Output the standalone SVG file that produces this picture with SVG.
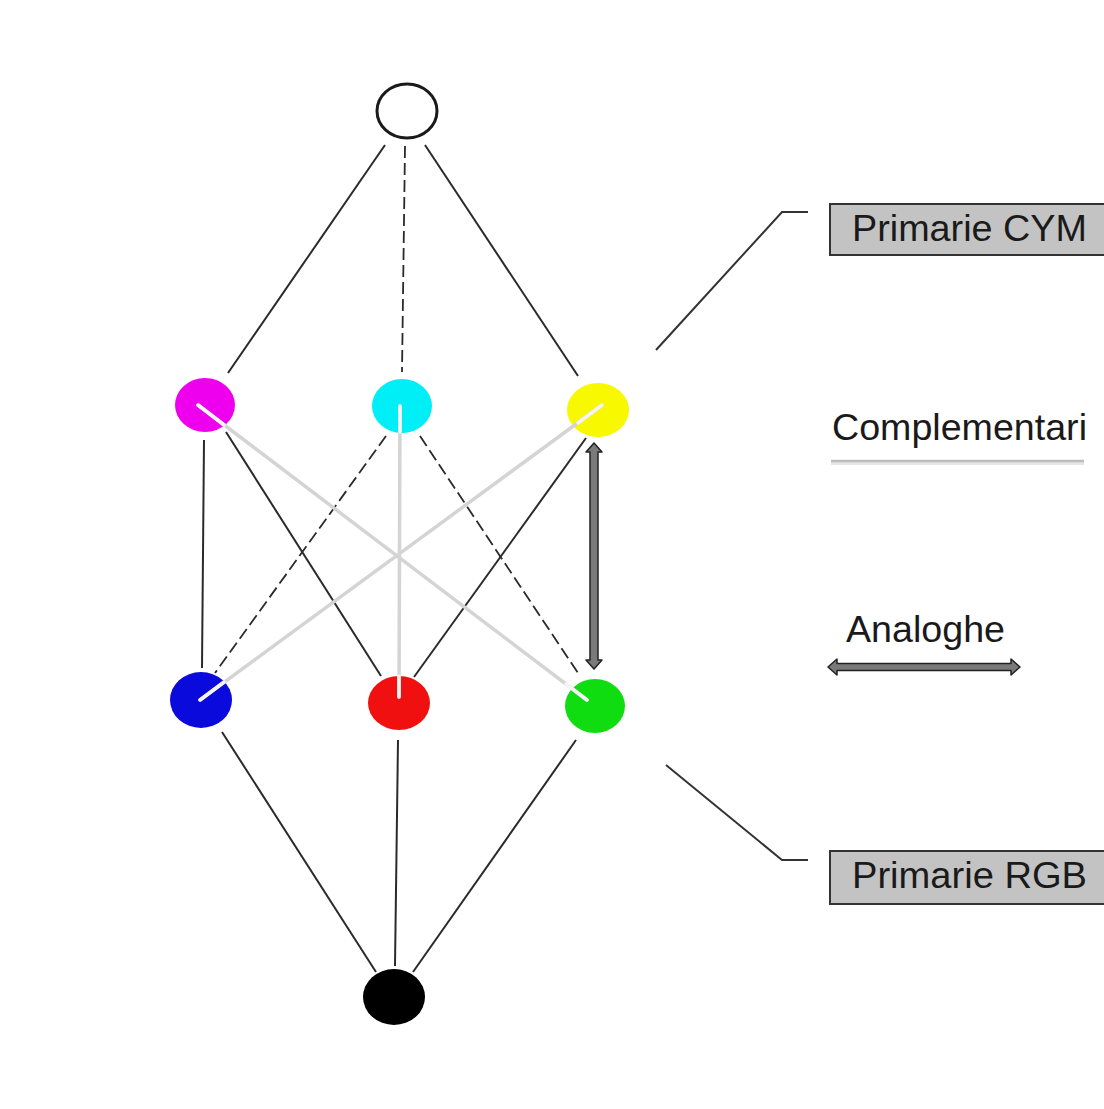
<svg xmlns="http://www.w3.org/2000/svg" width="1104" height="1109" viewBox="0 0 1104 1109">
  <defs>
    <style>
      .edge { stroke: #2a2a2a; stroke-width: 2; fill: none; }
      .dash { stroke: #2a2a2a; stroke-width: 1.8; fill: none; stroke-dasharray: 12 5; }
      .comp { stroke: #d4d4d4; stroke-width: 3.5; fill: none; stroke-linecap: round; }
      .comp-in { stroke: #f4f4f4; stroke-width: 3.5; fill: none; stroke-linecap: round; }
      .callout { stroke: #333; stroke-width: 2; fill: none; }
      .label { font-family: "Liberation Sans", Arial, sans-serif; font-size: 36px; fill: #1a1a1a; }
      .tag { fill: #c3c3c3; stroke: #333; stroke-width: 2; }
      .dbl { fill: #7a7a7a; stroke: #222; stroke-width: 1.5; stroke-linejoin: round; }
    </style>
  </defs>

  <rect width="1104" height="1109" fill="#ffffff"/>

  <!-- connectors -->
  <g id="connectors">
    <!-- white to first row -->
    <line class="edge" x1="385" y1="145" x2="228" y2="373"/>
    <line class="dash" x1="405" y1="146" x2="402" y2="372"/>
    <line class="edge" x1="425" y1="145" x2="578" y2="376"/>
    <!-- first row to second row -->
    <line class="edge" x1="204" y1="440" x2="202" y2="668"/>
    <line class="edge" x1="226" y1="432" x2="381" y2="676"/>
    <line class="dash" x1="386" y1="436" x2="215" y2="673"/>
    <line class="dash" x1="420" y1="436" x2="580" y2="676"/>
    <line class="edge" x1="586" y1="438" x2="414" y2="677"/>
    <!-- second row to black -->
    <line class="edge" x1="222" y1="732" x2="376" y2="972"/>
    <line class="edge" x1="398" y1="740" x2="395" y2="966"/>
    <line class="edge" x1="576" y1="740" x2="413" y2="972"/>
  </g>

  <!-- nodes -->
  <g id="node-white">
    <ellipse cx="407" cy="111" rx="30" ry="27" fill="#ffffff" stroke="#1a1a1a" stroke-width="3"/>
  </g>
  <g id="node-magenta">
    <ellipse cx="205" cy="405" rx="30" ry="27" fill="#ee00ee"/>
  </g>
  <g id="node-cyan">
    <ellipse cx="402" cy="406" rx="30" ry="27" fill="#00eef5"/>
  </g>
  <g id="node-yellow">
    <ellipse cx="598" cy="410" rx="31" ry="27" fill="#f8f800"/>
  </g>
  <g id="node-blue">
    <ellipse cx="201" cy="700" rx="31" ry="28" fill="#0a0adc"/>
  </g>
  <g id="node-red">
    <ellipse cx="399" cy="703" rx="31" ry="27" fill="#f01010"/>
  </g>
  <g id="node-green">
    <ellipse cx="595" cy="706" rx="30" ry="27" fill="#10dd10"/>
  </g>
  <g id="node-black">
    <ellipse cx="394" cy="997" rx="31" ry="28" fill="#000000"/>
  </g>

  <!-- complementary pairs, drawn over the nodes -->
  <g id="complementary">
    <line class="comp" x1="198" y1="405" x2="587" y2="700"/>
    <line class="comp" x1="602" y1="405" x2="200" y2="700"/>
    <line class="comp" x1="400" y1="406" x2="399" y2="697"/>
    <!-- lighter segments inside the discs -->
    <line class="comp-in" x1="198" y1="405" x2="224" y2="425"/>
    <line class="comp-in" x1="602" y1="405" x2="578" y2="423"/>
    <line class="comp-in" x1="400" y1="406" x2="400" y2="432"/>
    <line class="comp-in" x1="200" y1="700" x2="224" y2="682"/>
    <line class="comp-in" x1="399" y1="697" x2="399" y2="676"/>
    <line class="comp-in" x1="587" y1="700" x2="566" y2="684"/>
  </g>

  <!-- analogous double arrow between yellow and green -->
  <g id="analog-arrow">
    <path class="dbl" d="M594 443 L602 452 L598 452 L598 660 L602 660 L594 669 L586 660 L590 660 L590 452 L586 452 Z"/>
  </g>

  <!-- callouts -->
  <g id="callout-cym">
    <polyline class="callout" points="656,350 782,212 808,212"/>
    <rect class="tag" x="830" y="204" width="280" height="51"/>
    <text class="label" x="852" y="241" textLength="235" lengthAdjust="spacingAndGlyphs">Primarie CYM</text>
  </g>
  <g id="callout-rgb">
    <polyline class="callout" points="666,765 782,860 808,860"/>
    <rect class="tag" x="830" y="851" width="280" height="53"/>
    <text class="label" x="852" y="888" textLength="235" lengthAdjust="spacingAndGlyphs">Primarie RGB</text>
  </g>

  <!-- legend -->
  <g id="legend-complementari">
    <text class="label" x="832" y="440" textLength="255" lengthAdjust="spacingAndGlyphs">Complementari</text>
    <line x1="831" y1="463" x2="1084" y2="463" stroke="#e6e6e6" stroke-width="4"/>
    <line x1="831" y1="461" x2="1084" y2="461" stroke="#bdbdbd" stroke-width="2.5"/>
  </g>
  <g id="legend-analoghe">
    <text class="label" x="846" y="642" textLength="159" lengthAdjust="spacingAndGlyphs">Analoghe</text>
    <path class="dbl" d="M828 667 L837 659 L837 663.5 L1011 663.5 L1011 659 L1020 667 L1011 675 L1011 670.5 L837 670.5 L837 675 Z"/>
  </g>
</svg>
